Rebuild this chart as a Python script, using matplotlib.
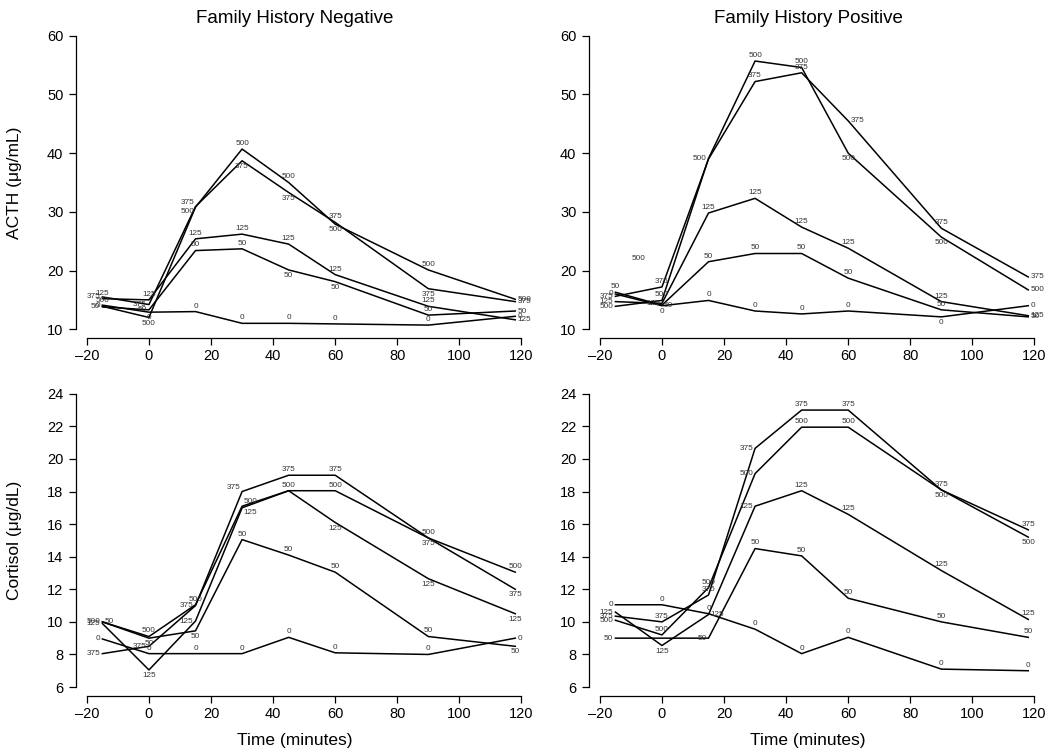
import numpy as np
import matplotlib
matplotlib.use('Agg')
import matplotlib.pyplot as plt
import matplotlib.ticker as mtick

plt.rcParams['font.family'] = ['Liberation Sans', 'DejaVu Sans']

# dados
tempos = [-15, 0, 15, 30, 45, 60, 90, 118]
doses = ['0', '50', '125', '375', '500']

acth_neg = [
    [14.1, 12.9, 13.0, 11.0, 11.0, 10.9, 10.7, 12.2],   # 0
    [13.8, 13.3, 23.4, 23.7, 20.1, 18.1, 12.4, 13.1],   # 50
    [15.2, 15.0, 25.4, 26.2, 24.5, 19.3, 13.9, 11.6],   # 125
    [15.5, 14.2, 30.9, 38.7, 33.3, 28.2, 16.9, 14.7],   # 375
    [13.9, 12.0, 30.8, 40.7, 35.0, 27.9, 20.1, 15.1],   # 500
]
acth_pos = [
    [16.0, 14.0, 14.9, 13.1, 12.6, 13.1, 12.1, 14.0],
    [16.3, 14.1, 21.5, 22.9, 22.9, 18.7, 13.3, 12.1],
    [14.7, 14.4, 29.8, 32.3, 27.4, 23.8, 14.7, 12.3],
    [15.6, 17.2, 39.0, 52.2, 53.7, 45.5, 27.2, 18.9],
    [13.9, 14.9, 39.1, 55.7, 54.6, 40.0, 25.7, 16.7],
]
cort_neg = [
    [8.95, 8.05, 8.05, 8.05, 9.05, 8.1, 8.0, 9.0],
    [10.0, 9.0, 9.45, 15.05, 14.1, 13.05, 9.1, 8.5],
    [9.9, 7.05, 10.05, 17.0, 18.05, 16.1, 12.65, 10.5],
    [8.05, 8.5, 11.0, 18.0, 19.0, 19.0, 15.15, 12.0],
    [10.0, 9.1, 11.05, 17.1, 18.05, 18.05, 15.15, 13.05],
]
cort_pos = [
    [11.05, 11.05, 10.5, 9.55, 8.05, 9.05, 7.1, 7.0],
    [9.0, 9.0, 9.0, 14.5, 14.05, 11.45, 10.0, 9.05],
    [10.6, 8.55, 10.45, 17.1, 18.05, 16.6, 13.15, 10.15],
    [10.35, 10.0, 11.65, 20.65, 23.0, 23.0, 18.1, 15.65],
    [10.1, 9.2, 12.1, 19.1, 21.95, 21.95, 18.1, 15.2],
]
# rotulo solto que aparece no painel ACTH positivo
extra_pos = (-7.5, 22.1, '500')

# posicao dos rotulos: a=acima, b=abaixo, l=esquerda, r=direita,
# q=acima-esq, z=abaixo-esq, e=acima-dir, d=abaixo-dir, n=sem rotulo
pos_acth_neg = ['lbaaaaar', 'llaabbar', 'aaaaaaar', 'llqbbabr', 'abzaabar']
pos_acth_pos = ['lbaaaabr', 'araaaaar', 'llaaaaar', 'lanaarar', 'lalaabbr']
pos_cort_neg = ['laaaaaar', 'rbbaaaab', 'lbldnbbb', 'lllqaabb', 'laaeaaaa']
pos_cort_pos = ['laaaaaaa', 'lnlaaaaa', 'lbrlaaaa', 'laalaaaa', 'laalaabb']

W, H = 1052, 752
fig = plt.figure(figsize=(W / 100, H / 100), dpi=100)


def eixo(x0, x1, ytop, ybot):
    return fig.add_axes([x0 / W, 1 - ybot / H, (x1 - x0) / W, (ybot - ytop) / H])


desloc = {'a': ((0, 1.5), 'center', 'bottom'),
          'b': ((0, -1.5), 'center', 'top'),
          'l': ((-1.5, 0), 'right', 'center'),
          'r': ((1.5, 0), 'left', 'center'),
          'q': ((-1, 0.5), 'right', 'bottom'),
          'z': ((-1, -0.5), 'right', 'top'),
          'e': ((1, 0.5), 'left', 'bottom'),
          'd': ((1, -0.5), 'left', 'top')}


def painel(ax, series, posicoes, ylim, yticks):
    for dose, vals, pos in zip(doses, series, posicoes):
        ax.plot(tempos, vals, color='black', lw=1.1)
        for t, v, p in zip(tempos, vals, pos):
            if p == 'n':
                continue
            off, ha, va = desloc[p]
            ax.annotate(dose, (t, v), xytext=off, textcoords='offset points',
                        ha=ha, va=va, fontsize=5.9, color='#333333')
    ax.set_xlim(-23.5, 125)
    ax.set_ylim(*ylim)
    ax.set_xticks(range(-20, 121, 20))
    ax.set_yticks(yticks)
    ax.xaxis.set_major_formatter(mtick.FuncFormatter(
        lambda x, p: ('\u2013%d' % -x) if x < 0 else '%d' % x))
    for s in ['top', 'right']:
        ax.spines[s].set_visible(False)
    ax.spines['left'].set_bounds(yticks[0], yticks[-1])
    ax.spines['bottom'].set_bounds(-20, 120)
    for s in ['left', 'bottom']:
        ax.spines[s].set_linewidth(0.9)
    ax.tick_params(direction='out', length=5, width=0.9, labelsize=10.5)
    ax.tick_params(axis='y', pad=4)
    ax.tick_params(axis='x', pad=3)
    ax.patch.set_visible(False)


ax1 = eixo(76, 537, 27, 338)
ax2 = eixo(589, 1050, 27, 338)
ax3 = eixo(76, 537, 384, 696)
ax4 = eixo(589, 1050, 384, 696)

painel(ax1, acth_neg, pos_acth_neg, (8.5, 61.5), list(range(10, 61, 10)))
painel(ax2, acth_pos, pos_acth_pos, (8.5, 61.5), list(range(10, 61, 10)))
painel(ax3, cort_neg, pos_cort_neg, (5.45, 24.6), list(range(6, 25, 2)))
painel(ax4, cort_pos, pos_cort_pos, (5.45, 24.6), list(range(6, 25, 2)))

ax2.text(extra_pos[0], extra_pos[1], extra_pos[2], ha='center', va='center',
         fontsize=5.9, color='#333333')

fig.text(295 / W, 1 - 23 / H, 'Family History Negative', ha='center',
         va='baseline', fontsize=13.5)
fig.text(808 / W, 1 - 23 / H, 'Family History Positive', ha='center',
         va='baseline', fontsize=13.5)
fig.text(15 / W, 1 - 183 / H, 'ACTH (\u03bcg/mL)', rotation=90, ha='center',
         va='center', fontsize=12.5)
fig.text(15 / W, 1 - 540 / H, 'Cortisol (\u03bcg/dL)', rotation=90, ha='center',
         va='center', fontsize=12.5)
fig.text(295 / W, 1 - 740 / H, 'Time (minutes)', ha='center', va='center',
         fontsize=12.5)
fig.text(808 / W, 1 - 740 / H, 'Time (minutes)', ha='center', va='center',
         fontsize=12.5)

fig.savefig('out.png', dpi=100)
